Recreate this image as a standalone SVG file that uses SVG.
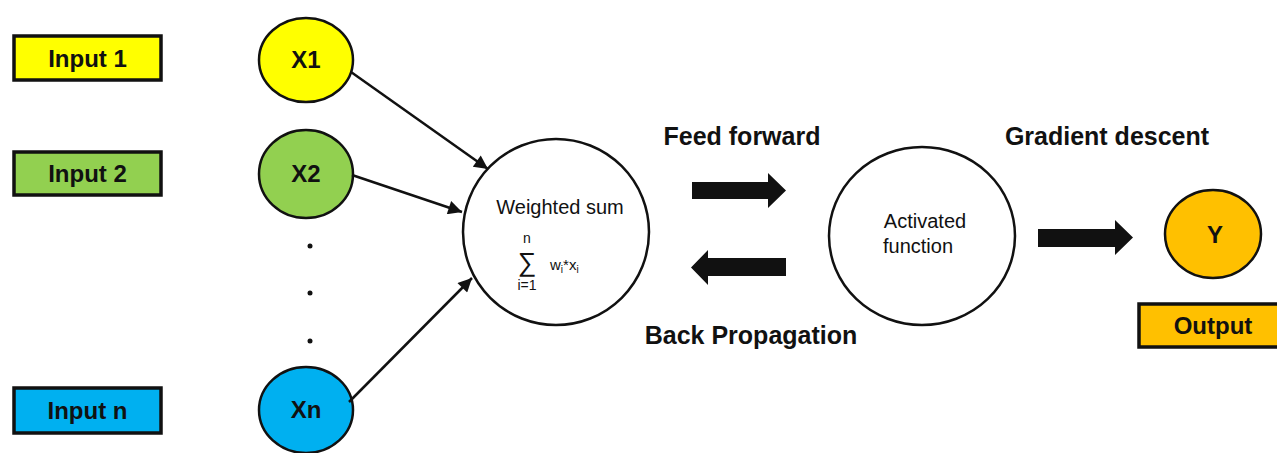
<svg xmlns="http://www.w3.org/2000/svg" width="1277" height="453" viewBox="0 0 1277 453">
<style>
.box{stroke:#111;stroke-width:3.5}
.node{stroke:#111;stroke-width:2.5}
.big{fill:#fff;stroke:#111;stroke-width:2.5}
.lbl{font-family:"Liberation Sans",Arial,sans-serif;font-weight:bold;font-size:24px;fill:#111;text-anchor:middle}
.head{font-family:"Liberation Sans",Arial,sans-serif;font-weight:bold;font-size:25px;fill:#111;text-anchor:middle}
.reg{font-family:"Liberation Sans",Arial,sans-serif;font-size:20px;fill:#111;text-anchor:middle}
.math{font-family:"Liberation Sans",Arial,sans-serif;fill:#111}
.conn{stroke:#111;stroke-width:2.5;fill:none}
.blk{fill:#111}
</style>
<defs>
<marker id="ah" viewBox="0 0 10 10" refX="10" refY="5" markerWidth="6.5" markerHeight="5.5" orient="auto" markerUnits="strokeWidth">
<path d="M0,0 L10,5 L0,10 z" fill="#111"/>
</marker>
</defs>
<rect width="1277" height="453" fill="#fff"/>

<g id="input1"><rect class="box" x="14" y="36" width="147" height="44" fill="#FFFF00"/><text class="lbl" x="87.5" y="67">Input 1</text></g>
<g id="input2"><rect class="box" x="14" y="152" width="147" height="43" fill="#92D050"/><text class="lbl" x="87.5" y="182">Input 2</text></g>
<g id="inputn"><rect class="box" x="14" y="388" width="147" height="45" fill="#00B0F0"/><text class="lbl" x="87.5" y="419">Input n</text></g>

<g id="x1"><ellipse class="node" cx="306" cy="60" rx="47" ry="42" fill="#FFFF00"/><text class="lbl" x="306" y="68">X1</text></g>
<g id="x2"><ellipse class="node" cx="306" cy="174" rx="47" ry="44" fill="#92D050"/><text class="lbl" x="306" y="182">X2</text></g>
<g id="xn"><ellipse class="node" cx="306" cy="410" rx="47" ry="43" fill="#00B0F0"/><text class="lbl" x="306" y="418">Xn</text></g>
<g id="dots" fill="#111"><circle cx="310" cy="246" r="2.5"/><circle cx="310" cy="293" r="2.5"/><circle cx="310" cy="341" r="2.5"/></g>

<g id="weighted"><circle class="big" cx="556" cy="232" r="93"/>
<text class="reg" x="560" y="214">Weighted sum</text>
<text class="math" font-size="14" x="527" y="243" text-anchor="middle">n</text>
<text class="math" font-size="26" x="527" y="271" text-anchor="middle">∑</text>
<text class="math" font-size="14" x="527" y="290" text-anchor="middle">i=1</text>
<text class="math" font-size="15" x="550" y="270">w<tspan font-size="10" dy="3">i</tspan><tspan dy="-3">*x</tspan><tspan font-size="10" dy="3">i</tspan></text>
</g>

<g id="activated"><ellipse class="big" cx="922" cy="236" rx="93" ry="89"/>
<text class="reg" x="925" y="228">Activated</text>
<text class="reg" x="918" y="253">function</text>
</g>

<g id="y"><ellipse class="node" cx="1213" cy="234" rx="48" ry="44" fill="#FFC000"/><text class="lbl" x="1215" y="243">Y</text></g>
<g id="output"><rect class="box" x="1139" y="304" width="145" height="43" fill="#FFC000"/><text class="lbl" x="1213" y="334">Output</text></g>

<g id="labels">
<text class="head" x="742" y="145">Feed forward</text>
<text class="head" x="751" y="344">Back Propagation</text>
<text class="head" x="1107" y="145">Gradient descent</text>
</g>

<g id="connectors">
<line class="conn" x1="351" y1="72" x2="488" y2="169" marker-end="url(#ah)"/>
<line class="conn" x1="352" y1="175" x2="462" y2="212" marker-end="url(#ah)"/>
<line class="conn" x1="349" y1="402" x2="472" y2="278" marker-end="url(#ah)"/>
<polygon class="blk" points="692,182 768,182 768,173 786,190.5 768,208 768,199 692,199"/>
<polygon class="blk" points="786,258 708,258 708,250 691,267.5 708,285 708,276 786,276"/>
<polygon class="blk" points="1038,229 1115,229 1115,220 1133,237.5 1115,255 1115,247 1038,247"/>
</g>
</svg>
